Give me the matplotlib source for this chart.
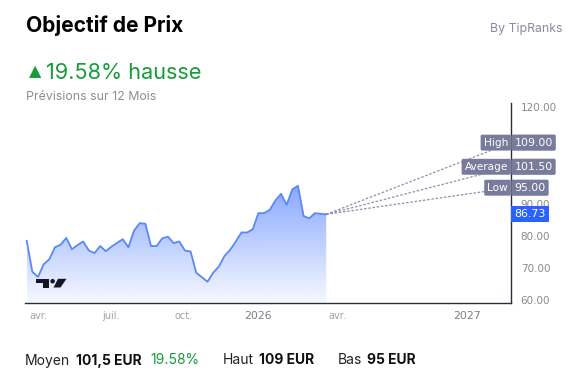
import matplotlib
matplotlib.use("Agg")
import matplotlib.pyplot as plt
import numpy as np
from matplotlib.patches import Polygon, Ellipse

# weekly closing prices (EUR), oldest first
prices = [78.5, 68.9, 67.3, 71.2, 72.8, 76.5, 77.3, 79.4, 75.9, 77.2,
          78.3, 75.5, 74.7, 76.9, 75.3, 76.7, 77.9, 79.0, 76.5, 81.7,
          84.0, 83.8, 76.9, 76.9, 79.3, 79.8, 77.8, 78.3, 75.5, 75.2,
          68.6, 67.2, 65.8, 68.6, 70.5, 73.8, 75.7, 78.3, 81.1, 81.1,
          82.1, 87.1, 87.1, 88.1, 91.0, 93.1, 89.7, 94.5, 95.6, 86.2,
          85.5, 87.1, 86.9, 86.73]
target_names = ["High", "Average", "Low"]
target_values = [109.00, 101.50, 95.00]
tick_pos = [2.0, 14.9, 27.8, 40.9, 54.9, 77.9]
tick_labels = ["avr.", "juil.", "oct.", "2026", "avr.", "2027"]
y_ticks = [60, 70, 80, 90, 100, 110, 120]
hidden_ticks = [100, 110]   # covered by the target labels

W, H = 574, 376
BLUE = "#2962ff"
LINE = "#5a88f8"
LABEL_BG = "#787b9b"
GREEN = "#179b3b"


def f(x, y):
    return (x / W, 1 - y / H)


fig = plt.figure(figsize=(W / 100, H / 100), dpi=100)
ax = fig.add_axes([25 / W, 1 - 302.7 / H, 486 / W, 199.7 / H])

x = np.arange(len(prices))
y = np.array(prices)
x_end = 85.7
ax.set_xlim(-0.3, x_end)
ax.set_ylim(59.3, 121.3)

# gradient area under the line
ymin = ax.get_ylim()[0]
grad = np.linspace(0.55, 0.04, 256)[:, None]
rgba = np.zeros((256, 1, 4))
rgba[..., 0] = 41 / 255; rgba[..., 1] = 98 / 255; rgba[..., 2] = 1.0
rgba[..., 3] = grad
im = ax.imshow(rgba, extent=[x[0], x[-1], ymin, y.max()], aspect="auto",
               origin="upper", zorder=1, interpolation="bilinear")
poly = Polygon(np.column_stack([np.r_[x, x[-1], x[0]], np.r_[y, ymin, ymin]]),
               closed=True, facecolor="none", edgecolor="none")
ax.add_patch(poly)
im.set_clip_path(poly)
ax.plot(x, y, color=LINE, lw=1.3, zorder=3, solid_joinstyle="round")

# projection lines to the analyst targets
for v in target_values:
    ax.plot([x[-1], x_end], [y[-1], v], color="#8e90ad", lw=0.9,
            ls=(0, (2, 1.4)), zorder=2, clip_on=False)

for s in ["left", "top"]:
    ax.spines[s].set_visible(False)
for s in ["right", "bottom"]:
    ax.spines[s].set_color("#2a2e39")
    ax.spines[s].set_linewidth(1.0)

ax.yaxis.tick_right()
ax.set_yticks(y_ticks)
ax.set_yticklabels(["" if v in hidden_ticks else f"{v:.2f}" for v in y_ticks])
ax.tick_params(axis="y", length=0, pad=7, labelsize=7.5, labelcolor="#8a8a8a")
ax.set_xticks(tick_pos)
ax.set_xticklabels(tick_labels)
ax.tick_params(axis="x", length=0, pad=6, labelsize=7, labelcolor="#a0a3ab")
for t in ax.get_xticklabels():
    if t.get_text().isdigit():
        t.set_color("#7c7f88"); t.set_fontsize(7.8)
ax.grid(False)

box = dict(boxstyle="round,pad=0.28,rounding_size=0.15", fc=LABEL_BG, ec="none")
tr = (ax.transAxes, ax.transData)
for name, v in zip(target_names, target_values):
    ax.annotate(name, xy=(1, v), xycoords=tr, xytext=(-2.2, 0),
                textcoords="offset points", ha="right", va="center",
                fontsize=7.6, color="white", bbox=box, zorder=10,
                annotation_clip=False)
    ax.annotate(f"{v:.2f}", xy=(1, v), xycoords=tr, xytext=(2.4, 0),
                textcoords="offset points", ha="left", va="center",
                fontsize=7.9, color="white", bbox=box, zorder=10,
                annotation_clip=False)
ax.annotate(f"{prices[-1]:.2f}", xy=(1, prices[-1]), xycoords=tr,
            xytext=(2.4, 0), textcoords="offset points", ha="left",
            va="center", fontsize=7.9, color="white", zorder=10,
            annotation_clip=False,
            bbox=dict(boxstyle="square,pad=0.28", fc=BLUE, ec="none"))

# TradingView logo
k = "#131722"
fig.patches.append(Polygon([f(36, 278.8), f(48.5, 278.8), f(48.5, 287.5),
                            f(42.5, 287.5), f(42.5, 283.2), f(36, 283.2)],
                           closed=True, transform=fig.transFigure, fc=k, ec="none",
                           zorder=5))
fig.patches.append(Ellipse(f(52.6, 281.2), 4.6 / W, 4.6 / H,
                           transform=fig.transFigure, fc=k, ec="none", zorder=5))
fig.patches.append(Polygon([f(58, 278.8), f(66.5, 278.8), f(60.5, 287.5),
                            f(53.5, 287.5)], closed=True,
                           transform=fig.transFigure, fc=k, ec="none", zorder=5))

# header
fig.text(*f(26, 32), "Objectif de Prix", fontsize=15.1, fontweight="bold",
         family=["Inter", "DejaVu Sans"], color="black", va="baseline")
fig.text(*f(563, 32), "By TipRanks", fontsize=8.85, color="#8a8a9c",
         family=["Inter", "DejaVu Sans"], ha="right", va="baseline")
fig.text(*f(35.5, 71.8), "▲", fontsize=11.5, color=GREEN, ha="center",
         va="center", family="DejaVu Sans")
fig.text(*f(46, 79), "19.58% hausse", fontsize=15.6, color=GREEN,
         family=["Inter", "DejaVu Sans"], va="baseline")
fig.text(*f(26, 99.5), "Prévisions sur 12 Mois", fontsize=8.9, color="#8c8c99",
         family=["Inter", "DejaVu Sans"], va="baseline")

# footer
footer = [(25, "Moyen", "normal", "#222222"), (76, "101,5 EUR", "bold", "#111111"),
          (150.5, "19.58%", "normal", GREEN), (222.7, "Haut", "normal", "#222222"),
          (259.3, "109 EUR", "bold", "#111111"), (337.7, "Bas", "normal", "#222222"),
          (366.7, "95 EUR", "bold", "#111111")]
for px, txt, wt, col in footer:
    fig.text(*f(px, 364.5), txt, fontsize=10, fontweight=wt, color=col,
             family=["Inter", "DejaVu Sans"], va="baseline")

fig.savefig("out.png", dpi=100, facecolor="white")
